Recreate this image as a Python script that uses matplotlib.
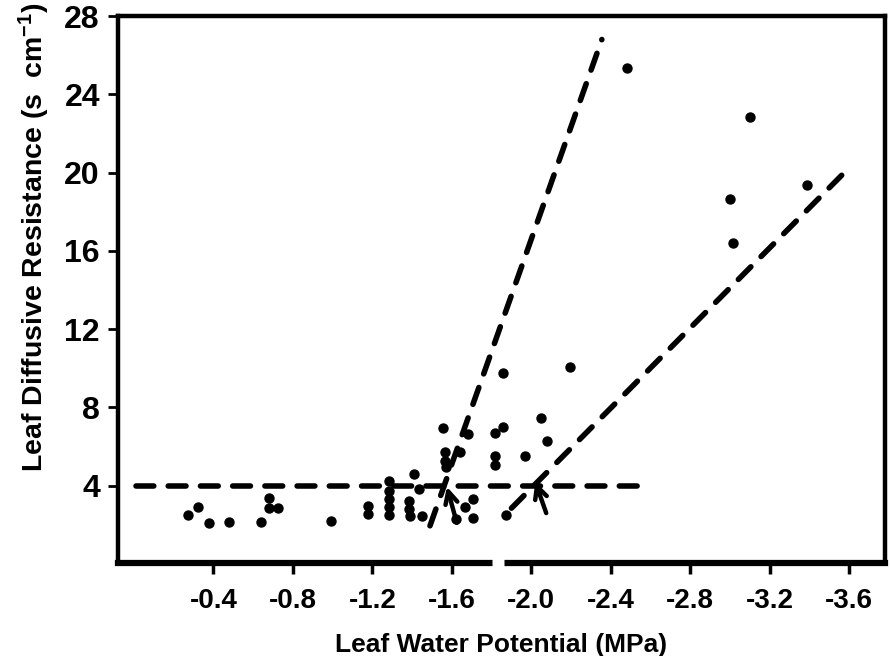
import numpy as np
import matplotlib.pyplot as plt

# leaf water potential (MPa) and leaf diffusive resistance (s cm-1)
water_potential = [-0.27, -0.325, -0.38, -0.48, -0.64, -0.68, -0.68, -0.725, -0.99,
                   -1.18, -1.18, -1.285, -1.285, -1.285, -1.285, -1.285,
                   -1.41, -1.435, -1.385, -1.385, -1.39, -1.45,
                   -1.555, -1.565, -1.565, -1.57, -1.64, -1.68,
                   -1.705, -1.665, -1.62, -1.705,
                   -1.855, -1.855, -1.815, -1.815, -1.815, -1.875,
                   -1.97, -2.05, -2.08, -2.195,
                   -2.48, -3.10, -3.00, -3.015, -3.385]
resistance = [2.50, 2.92, 2.09, 2.16, 2.13, 3.37, 2.84, 2.84, 2.18,
              2.97, 2.55, 4.25, 3.74, 3.32, 2.89, 2.50,
              4.59, 3.83, 3.23, 2.81, 2.46, 2.46,
              6.97, 5.70, 5.27, 4.93, 5.70, 6.63,
              3.32, 2.89, 2.30, 2.33,
              9.78, 7.02, 6.68, 5.53, 5.05, 2.50,
              5.53, 7.48, 6.30, 10.05,
              25.34, 22.84, 18.67, 16.41, 19.39]

# dashed reference lines (end points)
flat_x = [-0.01, -2.535]
flat_y = [4.0, 4.0]
steep_x = [-1.49, -2.355]
steep_y = [1.95, 26.8]
shallow_x = [-1.90, -3.59]
shallow_y = [2.85, 20.15]

# arrows marking the break points (tip, tail)
arrow_tips = [(-1.575, 3.95), (-2.02, 4.2)]
arrow_tails = [(-1.625, 2.1), (-2.075, 2.6)]

x_ticks = [-0.4, -0.8, -1.2, -1.6, -2.0, -2.4, -2.8, -3.2, -3.6]
y_ticks = [4, 8, 12, 16, 20, 24, 28]

plt.rcParams['font.family'] = ['Liberation Sans', 'DejaVu Sans']
plt.rcParams['font.weight'] = 'bold'
plt.rcParams['mathtext.fontset'] = 'custom'
plt.rcParams['mathtext.rm'] = 'Liberation Sans:bold'
plt.rcParams['mathtext.it'] = 'Liberation Sans:bold'
plt.rcParams['mathtext.bf'] = 'Liberation Sans:bold'

fig = plt.figure(figsize=(8.9, 6.56), dpi=100)
ax = fig.add_axes([0.1326, 0.1418, 0.8618, 0.8338])

#the three dashed lines
for xs, ys in [(flat_x, flat_y), (steep_x, steep_y), (shallow_x, shallow_y)]:
    ax.plot(xs, ys, color='black', lw=4, linestyle=(0, (3.2, 2.6)),
            dash_capstyle='round', solid_capstyle='round')

ax.scatter(water_potential, resistance, s=42, color='black', zorder=3)

for tip, tail in zip(arrow_tips, arrow_tails):
    ax.annotate('', xy=tip, xytext=tail,
                arrowprops=dict(arrowstyle='->', lw=3.2, color='black', mutation_scale=22,
                                shrinkA=0, shrinkB=0))

ax.set_xlim(0.08, -3.78)
ax.set_ylim(0.05, 28)
ax.set_xticks(x_ticks)
ax.set_xticklabels(['%.1f' % v for v in x_ticks])
ax.set_yticks(y_ticks)

for side in ['left', 'top', 'right']:
    ax.spines[side].set_linewidth(3.2)
ax.spines['bottom'].set_linewidth(4.5)

ax.tick_params(axis='y', direction='out', length=7, width=2, pad=6, labelsize=23)
ax.tick_params(axis='x', direction='out', length=8, width=2.5, pad=10, labelsize=20)

# small break in the bottom axis line
ax.plot([-1.80, -1.865], [0.05, 0.05], color='white', lw=8, clip_on=False, zorder=5,
        solid_capstyle='butt')

ax.set_xlabel('Leaf Water Potential (MPa)', fontsize=19, fontweight='bold', labelpad=14)
ax.set_ylabel('Leaf Diffusive Resistance (s  cm$^{-1}$)', fontsize=20.5, fontweight='bold')
ax.yaxis.set_label_coords(-0.086, 0.596)

fig.savefig('out.png', dpi=100)
